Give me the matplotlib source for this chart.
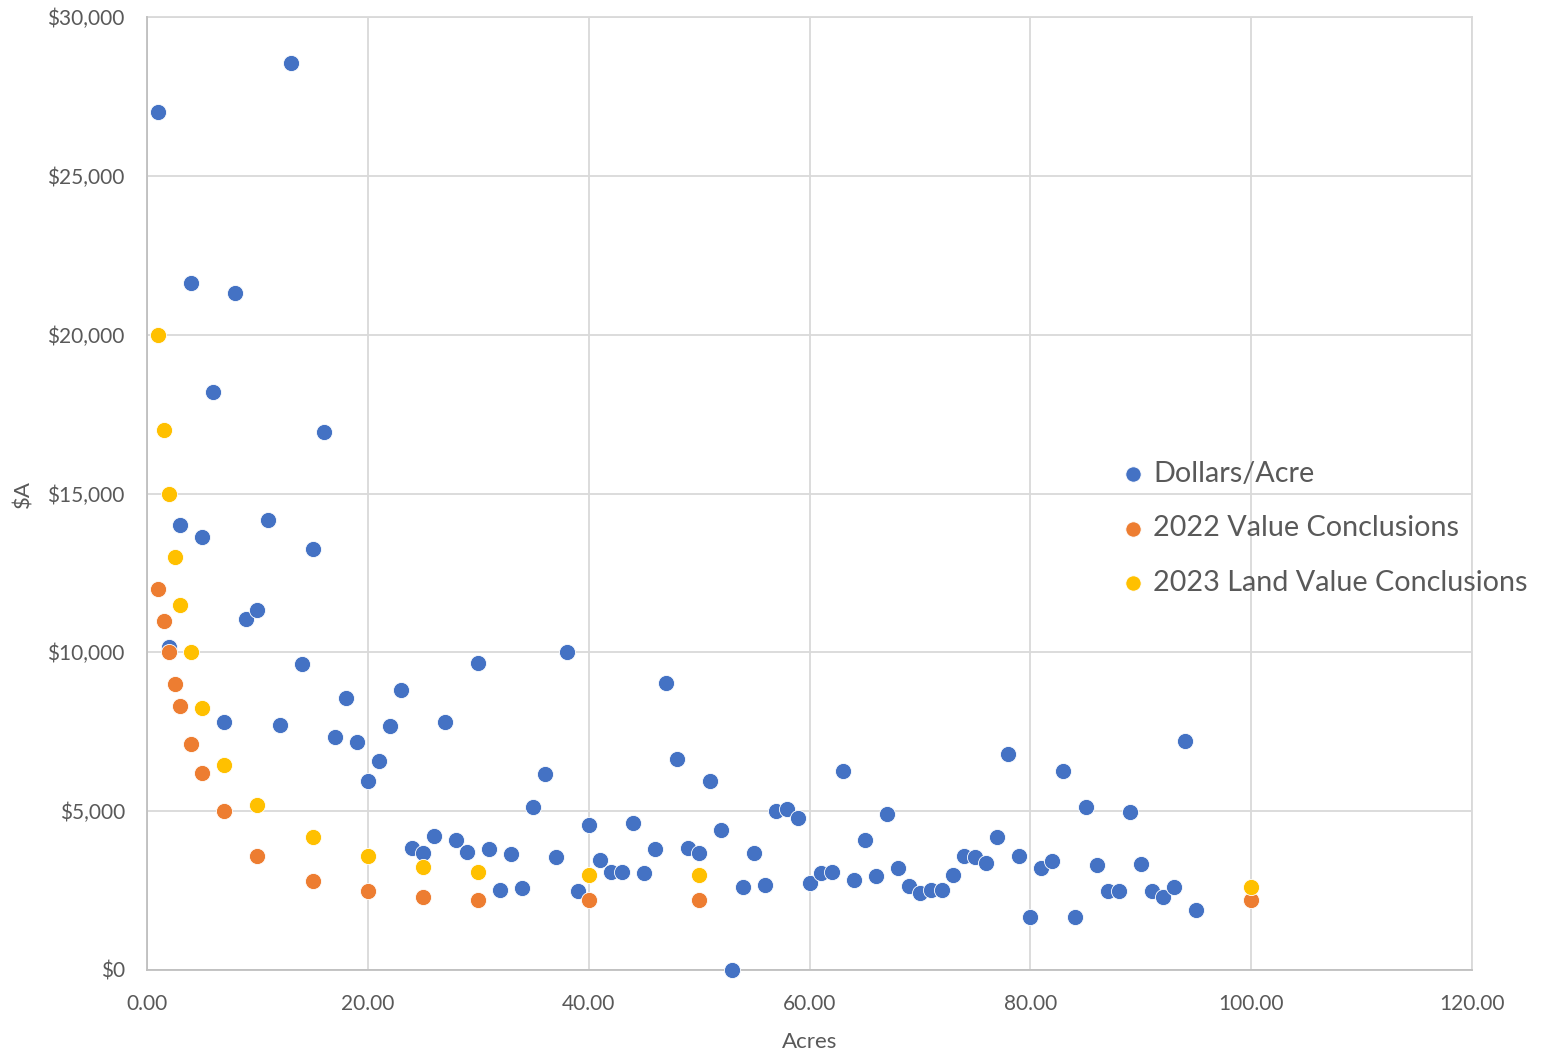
import numpy as np
import matplotlib
matplotlib.use("Agg")
import matplotlib.pyplot as plt
from matplotlib.ticker import FuncFormatter

# -----------------------------
# Data
# -----------------------------
acres = list(range(1, 96))
dollars_per_acre = [
    27000, 10160, 14010, 21630, 13630, 18200, 7800, 21310, 11050, 11330,
    14170, 7710, 28550, 9630, 13250, 16940, 7330, 8560, 7180, 5950,
    6580, 7680, 8810, 3840, 3680, 4220, 7800, 4090, 3720, 9660,
    3810, 2520, 3650, 2580, 5130, 6170, 3560, 10000, 2490, 4570,
    3460, 3090, 3090, 4630, 3050, 3810, 9040, 6640, 3840, 3680,
    5950, 4410, 0, 2610, 3680, 2680, 5000, 5070, 4790, 2740,
    3050, 3090, 6270, 2830, 4090, 2960, 4910, 3210, 2640, 2420,
    2520, 2520, 2990, 3590, 3560, 3370, 4190, 6800, 3590, 1670,
    3210, 3430, 6270, 1670, 5130, 3300, 2490, 2490, 4970, 3340,
    2490, 2300, 2610, 7210, 1890,
]

conclusion_acres = [1, 1.5, 2, 2.5, 3, 4, 5, 7, 10, 15, 20, 25, 30, 40, 50, 100]
value_2022 = [12000, 11000, 10000, 9000, 8300, 7100, 6200, 5000, 3600, 2800,
              2500, 2300, 2200, 2200, 2200, 2200]
land_value_2023 = [20000, 17000, 15000, 13000, 11500, 10000, 8250, 6450, 5200, 4200,
                   3600, 3250, 3100, 3000, 3000, 2600]

# -----------------------------
# Plot
# -----------------------------
plt.rcParams['font.family'] = ['Lato', 'DejaVu Sans']
text_color = '#595959'

fig = plt.figure(figsize=(15.43, 10.55), dpi=100)
ax = fig.add_axes([147 / 1543, 1 - 970 / 1055, (1472 - 147) / 1543, (970 - 17) / 1055])

ms = 135
ax.scatter(acres, dollars_per_acre, s=ms, color='#4472C4', edgecolors='white',
           linewidths=0.6, label='Dollars/Acre', zorder=3, clip_on=False)
ax.scatter(conclusion_acres, value_2022, s=ms, color='#ED7D31', edgecolors='white',
           linewidths=0.6, label='2022 Value Conclusions', zorder=4, clip_on=False)
ax.scatter(conclusion_acres, land_value_2023, s=ms, color='#FFC000', edgecolors='white',
           linewidths=0.6, label='2023 Land Value Conclusions', zorder=5, clip_on=False)

ax.set_xlim(0, 120)
ax.set_ylim(0, 30000)
ax.set_xticks(np.arange(0, 121, 20))
ax.set_yticks(np.arange(0, 30001, 5000))
ax.xaxis.set_major_formatter(FuncFormatter(lambda v, p: f"{v:.2f}"))
ax.yaxis.set_major_formatter(FuncFormatter(lambda v, p: f"${v:,.0f}"))

ax.grid(True, color='#d9d9d9', linewidth=1.3, zorder=0)
ax.set_axisbelow(True)
for side in ['top', 'right']:
    ax.spines[side].set_visible(False)
ax.spines['left'].set_color('#bfbfbf')
ax.spines['bottom'].set_color('#bfbfbf')
ax.spines['left'].set_linewidth(1.3)
ax.spines['bottom'].set_linewidth(1.3)
# grid lines at the far edges
ax.axhline(30000, color='#d9d9d9', linewidth=1.3, zorder=0, clip_on=False)
ax.axvline(120, color='#d9d9d9', linewidth=1.3, zorder=0, clip_on=False)

ax.tick_params(axis='both', length=0, labelsize=15, colors=text_color)
ax.tick_params(axis='x', pad=17)
ax.tick_params(axis='y', pad=16)

ax.set_xlabel("Acres", fontsize=16, color=text_color, labelpad=13)
ax.set_ylabel("$A", fontsize=16, color=text_color, labelpad=10)

fig.legend(loc='upper left', bbox_to_anchor=(1107 / 1543, 1 - 449 / 1055),
           frameon=False, fontsize=20.7, labelcolor=text_color, markerscale=0.95,
           handlelength=1.0, handletextpad=0.2, labelspacing=1.0, borderaxespad=0)

plt.savefig("out.png", dpi=100)
